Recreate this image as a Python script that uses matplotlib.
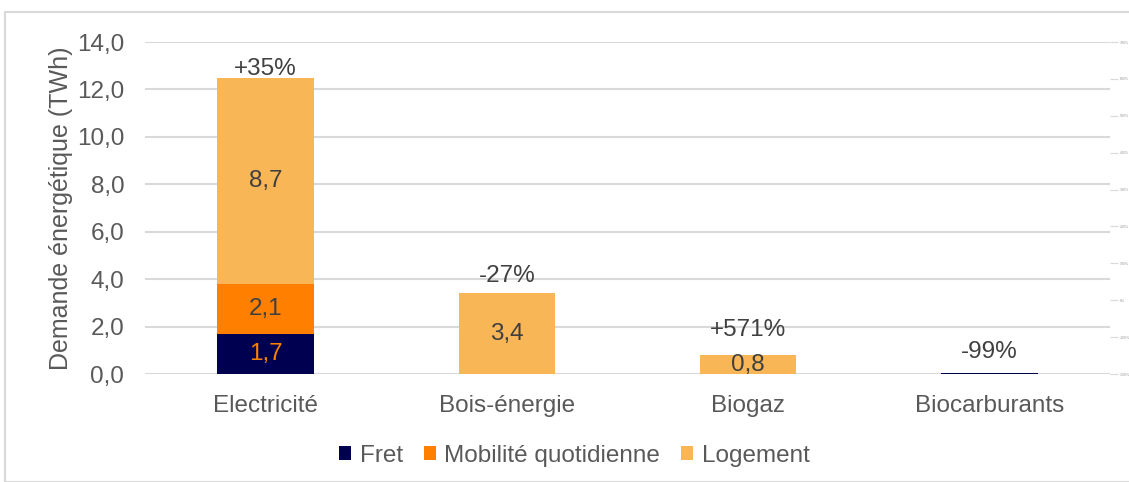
import matplotlib.pyplot as plt
from matplotlib.patches import Rectangle
from matplotlib.ticker import FixedLocator

plt.rcParams['font.family'] = ['Liberation Sans', 'DejaVu Sans']

categories = ['Electricité', 'Bois-énergie', 'Biogaz', 'Biocarburants']
fret = [1.7, 0.0, 0.0, 0.03]
mobilite = [2.1, 0.0, 0.0, 0.0]
logement = [8.7, 3.4, 0.8, 0.0]
evolution = ['+35%', '-27%', '+571%', '-99%']
# height of each change label above the top of its stack (TWh)
evolution_gap = [0.35, 0.75, 1.05, 0.9]

right_ticks = ['700%', '600%', '500%', '400%', '300%', '200%', '100%', '0%', '-100%', '-200%']

c_fret = '#000050'
c_mob = '#ff8000'
c_log = '#f9b657'
grey = '#595959'
dark = '#404040'
fs = 17.5

fig = plt.figure(figsize=(11.29, 4.82), dpi=100)
fig.patches.append(Rectangle((5 / 1129, 0), 1.2, (482 - 12) / 482, transform=fig.transFigure,
                             fill=False, edgecolor='#d9d9d9', linewidth=1.5))
ax = fig.add_axes([145 / 1129, 108 / 482, 965 / 1129, 332 / 482])

x = range(len(categories))
w = 0.4
bottom2 = [a + b for a, b in zip(fret, mobilite)]
b1 = ax.bar(x, fret, w, color=c_fret, label='Fret', zorder=3)
b2 = ax.bar(x, mobilite, w, bottom=fret, color=c_mob, label='Mobilité quotidienne', zorder=3)
b3 = ax.bar(x, logement, w, bottom=bottom2, color=c_log, label='Logement', zorder=3)

for bars, vals, base, col in [(b1, fret, [0] * 4, c_mob), (b2, mobilite, fret, dark),
                              (b3, logement, bottom2, dark)]:
    for rect, v, b0 in zip(bars, vals, base):
        if v >= 0.5:
            ax.text(rect.get_x() + rect.get_width() / 2, b0 + v / 2,
                    ('%.1f' % v).replace('.', ','), ha='center', va='center',
                    fontsize=fs, color=col, zorder=4)

totals = [a + b for a, b in zip(bottom2, logement)]
for i, (t, lab, g) in enumerate(zip(totals, evolution, evolution_gap)):
    ax.text(i, t + g, lab, ha='center', va='center', fontsize=fs, color=dark, zorder=4)

ax.set_xlim(-0.5, 3.5)
ax.set_ylim(0, 14)
ax.set_yticks(range(0, 15, 2))
ax.set_yticklabels([('%.1f' % v).replace('.', ',') for v in range(0, 15, 2)])
ax.set_xticks(list(x))
ax.set_xticklabels(categories)
ax.tick_params(axis='both', length=0, labelsize=fs, colors=grey)
ax.tick_params(axis='y', pad=15)
ax.tick_params(axis='x', pad=15)
ax.grid(axis='y', color='#d9d9d9', linewidth=1.5, zorder=0)
for s in ax.spines.values():
    s.set_visible(False)
ax.set_ylabel('Demande énergétique (TWh)', fontsize=18, color=grey, labelpad=3)

# secondary percentage axis, drawn very small
ax2 = ax.twinx()
ax2.set_ylim(0, 9)
ax2.yaxis.set_major_locator(FixedLocator(range(9, -1, -1)))
ax2.set_yticklabels(right_ticks)
ax2.tick_params(axis='y', length=6, width=0.8, color='#d9d9d9', labelsize=2.5,
                labelcolor='#999999', pad=1)
for s in ax2.spines.values():
    s.set_visible(False)

ax.legend(loc='center', bbox_to_anchor=(0.445, -0.247), ncol=3, frameon=False,
          fontsize=fs, labelcolor=grey, handlelength=0.5, handleheight=0.5,
          handletextpad=0.35, columnspacing=0.85)

fig.savefig('out.png', dpi=100)
